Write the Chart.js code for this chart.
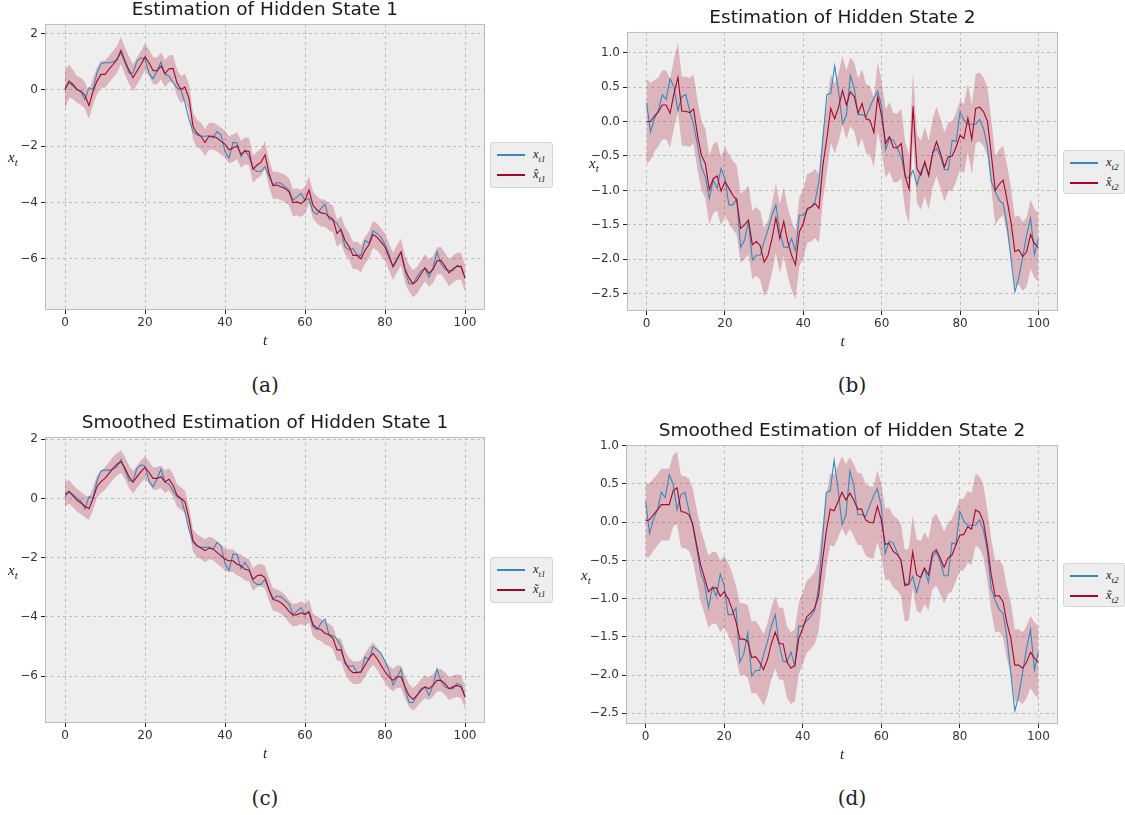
<!DOCTYPE html>
<html>
<head>
<meta charset="utf-8">
<script src="https://cdn.jsdelivr.net/npm/chart.js@4.4.1/dist/chart.umd.min.js"></script>
<style>
  body { margin: 0; background: #fff; width: 1125px; height: 815px; position: relative; overflow: hidden; }
  canvas { position: absolute; }
  .ylab { position: absolute; font: italic 15px 'Liberation Serif', serif; color: #222; }
  .ylab sub, .legend sub { font-size: 0.72em; }
  .legend { position: absolute; box-sizing: border-box; border: 1px solid #d4d4d4; border-radius: 3px; background: #eeeeee;
            padding: 5px 0 0 6px; font: italic 12.5px 'Liberation Serif', serif; color: #222; }
  .legend .row { display: flex; align-items: center; height: 14px; margin-bottom: 6px; }
  .legend .sw { display: inline-block; width: 28px; height: 2px; margin-right: 8px; }
  .cap { position: absolute; font: 20px 'DejaVu Serif', serif; color: #222; transform: translate(-50%, -50%); }
</style>
</head>
<body>
<canvas id="pa" width="490" height="360" style="left:0;top:0"></canvas>
<canvas id="pb" width="503" height="353" style="left:560px;top:8px"></canvas>
<canvas id="pc" width="490" height="360" style="left:0;top:413px"></canvas>
<canvas id="pd" width="503" height="353" style="left:560px;top:421px"></canvas>

<div class="ylab" style="left:8px;top:149px"><i>x<sub>t</sub></i></div>
<div class="ylab" style="left:589px;top:155px"><i>x<sub>t</sub></i></div>
<div class="ylab" style="left:8px;top:562px"><i>x<sub>t</sub></i></div>
<div class="ylab" style="left:581px;top:567px"><i>x<sub>t</sub></i></div>

<div class="legend" style="left:490px;top:142px;width:63px;height:46px">
  <div class="row"><span class="sw" style="background:#348ABD"></span><span>x<sub>t1</sub></span></div>
  <div class="row"><span class="sw" style="background:#A60628"></span><span>x&#770;<sub>t1</sub></span></div>
</div>
<div class="legend" style="left:1063px;top:150px;width:62px;height:44px">
  <div class="row"><span class="sw" style="background:#348ABD"></span><span>x<sub>t2</sub></span></div>
  <div class="row"><span class="sw" style="background:#A60628"></span><span>x&#770;<sub>t2</sub></span></div>
</div>
<div class="legend" style="left:490px;top:557px;width:63px;height:46px">
  <div class="row"><span class="sw" style="background:#348ABD"></span><span>x<sub>t1</sub></span></div>
  <div class="row"><span class="sw" style="background:#A60628"></span><span>x&#771;<sub>t1</sub></span></div>
</div>
<div class="legend" style="left:1063px;top:563px;width:62px;height:44px">
  <div class="row"><span class="sw" style="background:#348ABD"></span><span>x<sub>t2</sub></span></div>
  <div class="row"><span class="sw" style="background:#A60628"></span><span>x&#771;<sub>t2</sub></span></div>
</div>

<div class="cap" style="left:265px;top:385px">(a)</div>
<div class="cap" style="left:852px;top:385px">(b)</div>
<div class="cap" style="left:265px;top:798px">(c)</div>
<div class="cap" style="left:852px;top:798px">(d)</div>

<script>
// time index and ticks
const t = Array.from({ length: 101 }, (_, i) => i);
const xTicks = [0, 20, 40, 60, 80, 100];
const yTicks1 = [-6, -4, -2, 0, 2];
const yTicks2 = [-2.5, -2.0, -1.5, -1.0, -0.5, 0.0, 0.5, 1.0];

// hidden state 1: true, filtered, smoothed
const state1 = [0.05, 0.25, 0.13, 0.01, -0.08, -0.35, 0.07, 0.01, 0.6, 0.93,
  0.96, 0.96, 0.99, 1.08, 1.32, 0.96, 0.6, 0.6, 1.02, 1.14,
  1.1, 0.6, 0.39, 0.67, 0.99, 0.55, 0.49, 0.25, 0.07, 0.0,
  -0.46, -1.05, -1.48, -1.6, -1.65, -1.65, -1.63, -1.71, -1.48, -1.6,
  -2.19, -2.43, -1.87, -1.89, -2.37, -2.15, -2.37, -2.79, -2.9, -2.9,
  -2.73, -3.08, -3.38, -3.29, -3.32, -3.44, -3.56, -3.92, -3.8, -3.68,
  -3.92, -3.86, -4.33, -4.43, -4.21, -4.07, -4.6, -4.63, -4.75, -4.99,
  -5.58, -5.68, -5.64, -5.86, -5.88, -5.35, -5.44, -5.01, -5.1, -5.23,
  -5.49, -5.82, -6.3, -6.06, -5.76, -6.42, -6.89, -6.89, -6.65, -6.42,
  -6.36, -6.65, -6.3, -5.76, -6.18, -6.36, -6.42, -6.42, -6.24, -6.3,
  -6.65];
const filtered1 = [0, 0.31, 0.19, 0.01, -0.05, -0.2, -0.56, -0.05, 0.31, 0.55,
  0.55, 0.73, 0.9, 1.08, 1.4, 1.02, 0.7, 0.43, 0.67, 0.9,
  1.17, 0.96, 0.69, 0.67, 0.85, 0.57, 0.75, 0.76, 0.25, 0.01,
  0.1, -0.3, -1.3, -1.54, -1.65, -1.87, -1.65, -1.65, -1.71, -1.83,
  -1.93, -2.13, -2.07, -1.99, -2.29, -2.17, -2.19, -2.82, -2.67, -2.58,
  -2.31, -2.96, -3.4, -3.38, -3.44, -3.5, -3.62, -4.01, -3.98, -4.04,
  -3.92, -3.56, -4.1, -4.27, -4.37, -4.39, -4.51, -4.6, -5.1, -4.96,
  -5.35, -5.56, -5.88, -5.88, -6.0, -5.7, -5.5, -5.14, -5.23, -5.4,
  -5.58, -5.94, -6.27, -6.0, -5.76, -6.36, -6.68, -6.89, -6.77, -6.54,
  -6.32, -6.51, -6.39, -6.08, -6.06, -6.27, -6.5, -6.36, -6.27, -6.27,
  -6.69];
const smoothed1 = [0.14, 0.23, 0.09, -0.06, -0.15, -0.26, -0.34, 0, 0.4, 0.57,
  0.68, 0.85, 1.02, 1.16, 1.24, 1.02, 0.74, 0.55, 0.74, 0.91,
  1.05, 0.88, 0.68, 0.68, 0.74, 0.57, 0.65, 0.45, 0.11, 0,
  -0.11, -0.68, -1.42, -1.59, -1.67, -1.76, -1.67, -1.7, -1.82, -1.93,
  -2.05, -2.1, -2.1, -2.22, -2.27, -2.39, -2.42, -2.73, -2.61, -2.58,
  -2.67, -3.07, -3.41, -3.44, -3.52, -3.64, -3.81, -3.94, -3.92, -3.86,
  -3.92, -3.81, -4.26, -4.38, -4.43, -4.55, -4.6, -4.72, -5.11, -5.11,
  -5.51, -5.76, -5.88, -5.88, -5.85, -5.63, -5.4, -5.23, -5.4, -5.63,
  -5.85, -6.02, -6.14, -6.02, -6.02, -6.36, -6.65, -6.78, -6.65, -6.48,
  -6.36, -6.42, -6.31, -6.14, -6.14, -6.25, -6.42, -6.36, -6.31, -6.36,
  -6.7];

// hidden state 2: true, filtered, smoothed
const state2 = [0.27, -0.15, 0.04, 0.16, 0.39, 0.32, 0.62, 0.5, 0.16, 0.36,
  0.39, 0.16, -0.05, -0.34, -0.66, -0.8, -1.12, -0.85, -0.97, -0.68,
  -0.83, -1.21, -1.21, -1.12, -1.83, -1.72, -1.45, -2.01, -1.94, -1.94,
  -1.74, -1.57, -1.36, -1.21, -1.6, -1.82, -1.83, -1.7, -1.88, -1.36,
  -1.36, -1.29, -1.24, -1.16, -0.87, -0.25, 0.39, 0.41, 0.81, 0.43,
  -0.03, 0.09, 0.67, 0.48, 0.1, 0.1, 0.07, 0.21, 0.34, 0.44,
  0.21, -0.41, -0.25, -0.27, -0.39, -0.51, -0.8, -0.82, -0.71, -0.92,
  -0.73, -0.61, -0.79, -0.46, -0.39, -0.51, -0.7, -0.7, -0.27, -0.29,
  0.14, 0.02, -0.04, -0.04, -0.04, 0.03, -0.1, -0.37, -0.87, -1.02,
  -1.14, -1.19, -1.5, -1.99, -2.47, -2.27, -1.96, -1.65, -1.4, -1.93,
  -1.7];
const filtered2 = [0, 0, 0.08, 0.14, 0.24, 0.24, 0.12, 0.41, 0.64, 0.15,
  0.15, 0.13, 0.18, -0.2, -0.49, -0.61, -0.99, -0.83, -0.79, -1.01,
  -0.87, -0.97, -1.07, -1.14, -1.55, -1.5, -1.43, -1.79, -1.74, -1.8,
  -2.04, -1.94, -1.7, -1.4, -1.7, -1.45, -1.74, -1.94, -2.08, -1.6,
  -1.48, -1.26, -1.24, -1.19, -1.26, -0.63, -0.25, 0.19, 0.04, 0.21,
  0.45, 0.24, 0.43, 0.36, 0.12, 0.26, 0.04, 0.02, -0.16, 0.36,
  0.07, -0.32, -0.22, -0.38, -0.38, -0.32, -0.8, -0.98, 0.22, -0.68,
  -0.78, -0.58, -0.78, -0.46, -0.29, -0.46, -0.66, -0.51, -0.5, -0.37,
  -0.2, -0.25, 0.05, -0.26, 0.19, 0.21, 0.14, 0, -0.49, -1.0,
  -0.91, -0.85, -1.14, -1.46, -1.89, -1.86, -1.96, -1.89, -1.64, -1.77,
  -1.83];
const smoothed2 = [0.02, 0.03, 0.1, 0.16, 0.23, 0.23, 0.23, 0.41, 0.45, 0.14,
  0.13, 0.1, -0.03, -0.3, -0.56, -0.73, -0.91, -0.86, -0.86, -0.97,
  -0.91, -1.0, -1.13, -1.3, -1.53, -1.53, -1.56, -1.77, -1.76, -1.83,
  -1.93, -1.8, -1.59, -1.44, -1.59, -1.59, -1.83, -1.91, -1.87, -1.52,
  -1.39, -1.24, -1.19, -1.13, -0.97, -0.52, -0.12, 0.17, 0.15, 0.27,
  0.39, 0.29, 0.38, 0.29, 0.17, 0.17, 0.03, 0, -0.01, 0.21,
  0.03, -0.29, -0.28, -0.38, -0.42, -0.49, -0.83, -0.81, -0.39, -0.69,
  -0.72, -0.6, -0.69, -0.41, -0.36, -0.47, -0.59, -0.47, -0.43, -0.3,
  -0.17, -0.16, -0.06, -0.09, 0.16, 0.13, 0.01, -0.3, -0.69, -0.97,
  -0.96, -1.04, -1.32, -1.52, -1.87, -1.87, -1.91, -1.83, -1.7, -1.78,
  -1.83];

// band half-widths (first steps wider, then steady)
const bandStartA = [0.7, 0.58, 0.52];
const bandA = 0.48;
const bandStartB = [0.62, 0.56, 0.52];
const bandB = 0.5;
const bandStartC = [0.42, 0.4];
const bandC = 0.38;
const bandStartD = [0.49, 0.48];
const bandD = 0.47;

const BLUE = '#348ABD';
const RED = '#A60628';
const BAND = 'rgba(166, 6, 40, 0.25)';

const panelBg = {
  id: 'panelBg',
  beforeDraw(chart) {
    const { ctx, chartArea: a } = chart;
    ctx.save();
    ctx.fillStyle = '#eeeeee';
    ctx.fillRect(a.left, a.top, a.right - a.left, a.bottom - a.top);
    ctx.restore();
  },
  afterDraw(chart) {
    const { ctx, chartArea: a } = chart;
    ctx.save();
    ctx.strokeStyle = '#bcbcbc';
    ctx.lineWidth = 1;
    ctx.strokeRect(a.left + 0.5, a.top + 0.5, a.right - a.left - 1, a.bottom - a.top - 1);
    ctx.restore();
  }
};

const minus = s => s.replace('-', '\u2212');

function panel(id, p) {
  const hw = i => (p.bandStart[i] !== undefined ? p.bandStart[i] : p.band);
  const pts = arr => arr.map((v, i) => ({ x: t[i], y: v }));
  const upper = p.est.map((v, i) => ({ x: t[i], y: v + hw(i) }));
  const lower = p.est.map((v, i) => ({ x: t[i], y: v - hw(i) }));
  const line = { pointRadius: 0, tension: 0, fill: false, borderWidth: 1.1 };

  new Chart(document.getElementById(id), {
    type: 'line',
    data: {
      datasets: [
        { data: upper, fill: '+1', backgroundColor: BAND, borderWidth: 0, pointRadius: 0, order: 3 },
        { data: lower, fill: false, borderWidth: 0, pointRadius: 0, order: 3 },
        { ...line, data: pts(p.truth), borderColor: BLUE, order: 2 },
        { ...line, data: pts(p.est), borderColor: RED, order: 1 }
      ]
    },
    options: {
      responsive: false,
      animation: false,
      devicePixelRatio: 1,
      layout: { padding: { left: 0, right: 5, top: 0, bottom: 0 } },
      plugins: {
        legend: { display: false },
        tooltip: { enabled: false },
        title: {
          display: true, text: p.title, fullSize: false, color: '#1a1a1a',
          font: { family: 'DejaVu Sans', size: 18.5, weight: 'normal', lineHeight: 1.1 },
          padding: { top: 0, bottom: 3.6 }
        }
      },
      scales: {
        x: {
          type: 'linear', min: -5, max: 105,
          afterBuildTicks: s => { s.ticks = xTicks.map(v => ({ value: v })); },
          afterFit: s => { s.height = 50; },
          grid: { color: '#b2b2b2', lineWidth: 0.8, tickColor: '#222', tickLength: 4, tickWidth: 1, tickBorderDash: [] },
          border: { display: false, dash: [3, 3] },
          ticks: { color: '#333', font: { family: 'DejaVu Sans', size: 12 }, padding: 2, maxRotation: 0, autoSkip: false,
                   callback: v => minus(String(v)) },
          title: { display: true, text: 't', color: '#222',
                   font: { family: 'Liberation Serif', style: 'italic', size: 15 }, padding: { top: 0, bottom: 10 } }
        },
        y: {
          type: 'linear', min: p.ymin, max: p.ymax,
          afterBuildTicks: s => { s.ticks = p.yTicks.map(v => ({ value: v })); },
          afterFit: s => { s.width = p.yw; },
          grid: { color: '#b2b2b2', lineWidth: 0.8, tickColor: '#222', tickLength: 4, tickWidth: 1, tickBorderDash: [] },
          border: { display: false, dash: [3, 3] },
          ticks: { color: '#333', font: { family: 'DejaVu Sans', size: 12 }, padding: 3, autoSkip: false,
                   callback: p.fmt }
        }
      }
    },
    plugins: [panelBg]
  });
}

panel('pa', { title: 'Estimation of Hidden State 1', truth: state1, est: filtered1, bandStart: bandStartA, band: bandA,
  ymin: -7.82, ymax: 2.34, yTicks: yTicks1, yw: 45, fmt: v => minus(String(v)) });
panel('pb', { title: 'Estimation of Hidden State 2', truth: state2, est: filtered2, bandStart: bandStartB, band: bandB,
  ymin: -2.75, ymax: 1.30, yTicks: yTicks2, yw: 67, fmt: v => minus(v.toFixed(1)) });
panel('pc', { title: 'Smoothed Estimation of Hidden State 1', truth: state1, est: smoothed1, bandStart: bandStartC, band: bandC,
  ymin: -7.58, ymax: 2.08, yTicks: yTicks1, yw: 45, fmt: v => minus(String(v)) });
panel('pd', { title: 'Smoothed Estimation of Hidden State 2', truth: state2, est: smoothed2, bandStart: bandStartD, band: bandD,
  ymin: -2.64, ymax: 1.01, yTicks: yTicks2, yw: 66, fmt: v => minus(v.toFixed(1)) });
</script>
</body>
</html>
